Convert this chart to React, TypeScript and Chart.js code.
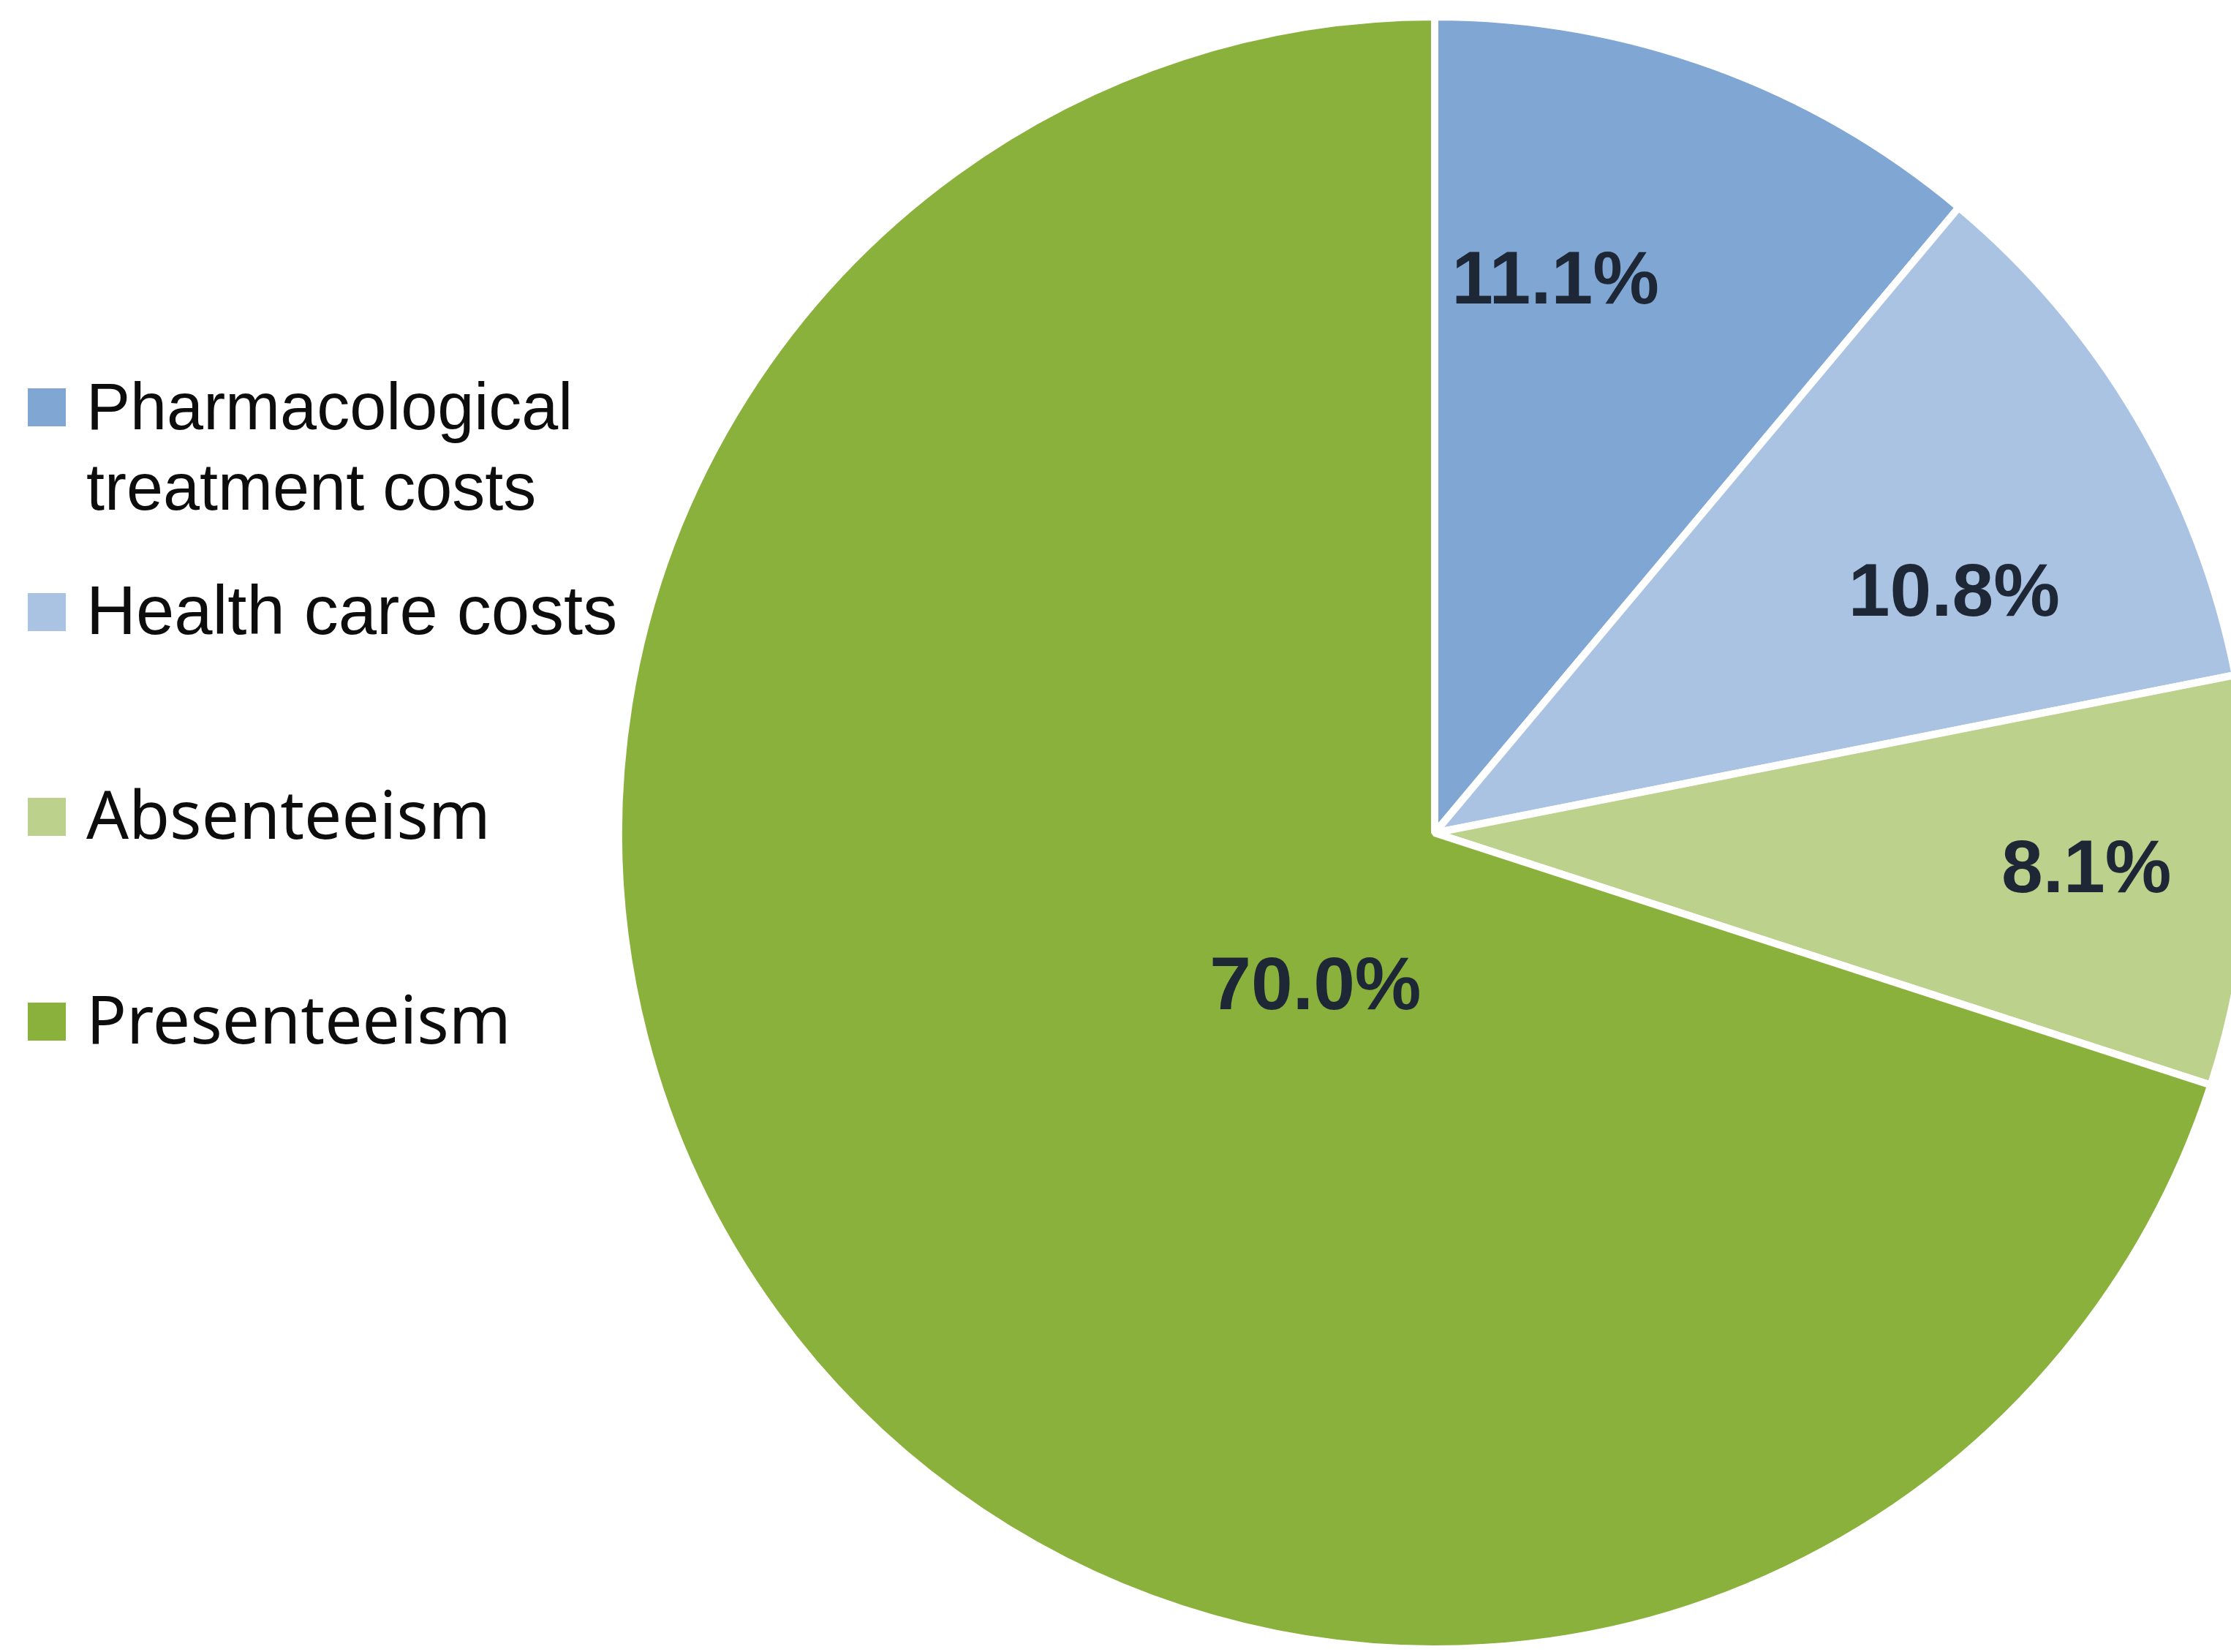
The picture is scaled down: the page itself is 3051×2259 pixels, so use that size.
import React, { useEffect, useRef } from "react";
import { Chart, registerables } from "chart.js";

Chart.register(...registerables);

// ---- data ----
const CATEGORIES = [
  "Pharmacological treatment costs",
  "Health care costs",
  "Absenteeism",
  "Presenteeism",
];
const VALUES = [11.1, 10.8, 8.1, 70.0];
const VALUE_LABELS = ["11.1%", "10.8%", "8.1%", "70.0%"];

// ---- styles ----
const COLORS = ["#80A6D3", "#AAC3E2", "#BCD18B", "#8AB13C"];
const LABEL_RADIUS = [0.69, 0.7, 0.8, 0.24];
const LABEL_ANGLE_NUDGE_DEG = [-7.6, 6, 0, -16.5];
const ARIAL = '"Liberation Sans", Arial, Helvetica, sans-serif';
const NOTO = '"Noto Sans", "Open Sans", sans-serif';
const LEGEND_FONTS = [ARIAL, ARIAL, NOTO, NOTO];
const LEGEND_FONT_SIZES = [90, 94, 91, 91];

const CANVAS_W = 3200;
const CANVAS_H = 2262;

const pieLabelPlugin = {
  id: "pieLabels",
  afterDatasetsDraw(chart: any) {
    const ctx = chart.ctx;
    const meta = chart.getDatasetMeta(0);
    ctx.save();
    ctx.font = `bold 102px ${ARIAL}`;
    ctx.fillStyle = "#1d2736";
    ctx.textAlign = "center";
    ctx.textBaseline = "middle";
    meta.data.forEach((arc: any, i: number) => {
      const p = arc.getProps(["x", "y", "startAngle", "endAngle", "outerRadius"], true);
      const mid = (p.startAngle + p.endAngle) / 2 + (LABEL_ANGLE_NUDGE_DEG[i] * Math.PI) / 180;
      const r = p.outerRadius * LABEL_RADIUS[i];
      ctx.fillText(VALUE_LABELS[i], p.x + r * Math.cos(mid), p.y + r * Math.sin(mid));
    });
    ctx.restore();
  },
};

const sideLegendPlugin = {
  id: "sideLegend",
  afterDraw(chart: any) {
    const ctx = chart.ctx;
    const labels: string[] = chart.data.labels;
    const colors: string[] = chart.data.datasets[0].backgroundColor;
    const boxX = 38;
    const boxSize = 52;
    const textX = 118;
    const firstBaseline = 587;
    const step = 280;
    const lineH = 110;
    const maxW = 740;
    ctx.save();
    ctx.textAlign = "left";
    ctx.textBaseline = "alphabetic";
    labels.forEach((label, i) => {
      const base = firstBaseline + i * step;
      ctx.fillStyle = colors[i];
      ctx.fillRect(boxX, base - 30 - boxSize / 2, boxSize, boxSize);
      ctx.font = `${LEGEND_FONT_SIZES[i]}px ${LEGEND_FONTS[i]}`;
      ctx.fillStyle = "#0d0d0d";
      const words = label.split(" ");
      const lines: string[] = [];
      let cur = "";
      words.forEach((w) => {
        const test = cur ? cur + " " + w : w;
        if (cur && ctx.measureText(test).width > maxW) {
          lines.push(cur);
          cur = w;
        } else {
          cur = test;
        }
      });
      if (cur) lines.push(cur);
      lines.forEach((ln, j) => ctx.fillText(ln, textX, base + j * lineH));
    });
    ctx.restore();
  },
};

export default function App() {
  const ref = useRef<HTMLCanvasElement | null>(null);
  useEffect(() => {
    if (!ref.current) return;
    const chart = new Chart(ref.current, {
      type: "pie",
      data: {
        labels: CATEGORIES,
        datasets: [
          {
            data: VALUES,
            backgroundColor: COLORS,
            borderColor: "#ffffff",
            borderWidth: 10,
          },
        ],
      },
      options: {
        responsive: false,
        animation: false,
        devicePixelRatio: 1,
        layout: { padding: { left: 841, top: 18, right: 117, bottom: 2 } },
        plugins: {
          legend: { display: false },
          title: { display: false },
          tooltip: { enabled: false },
        },
      },
      plugins: [pieLabelPlugin, sideLegendPlugin],
    });
    return () => chart.destroy();
  }, []);
  return (
    <div
      style={{
        position: "fixed",
        left: 0,
        top: 0,
        width: 3051,
        height: 2259,
        overflow: "hidden",
        background: "#ffffff",
      }}
    >
      <canvas
        ref={ref}
        width={CANVAS_W}
        height={CANVAS_H}
        style={{ display: "block", width: CANVAS_W, height: CANVAS_H }}
      />
    </div>
  );
}
